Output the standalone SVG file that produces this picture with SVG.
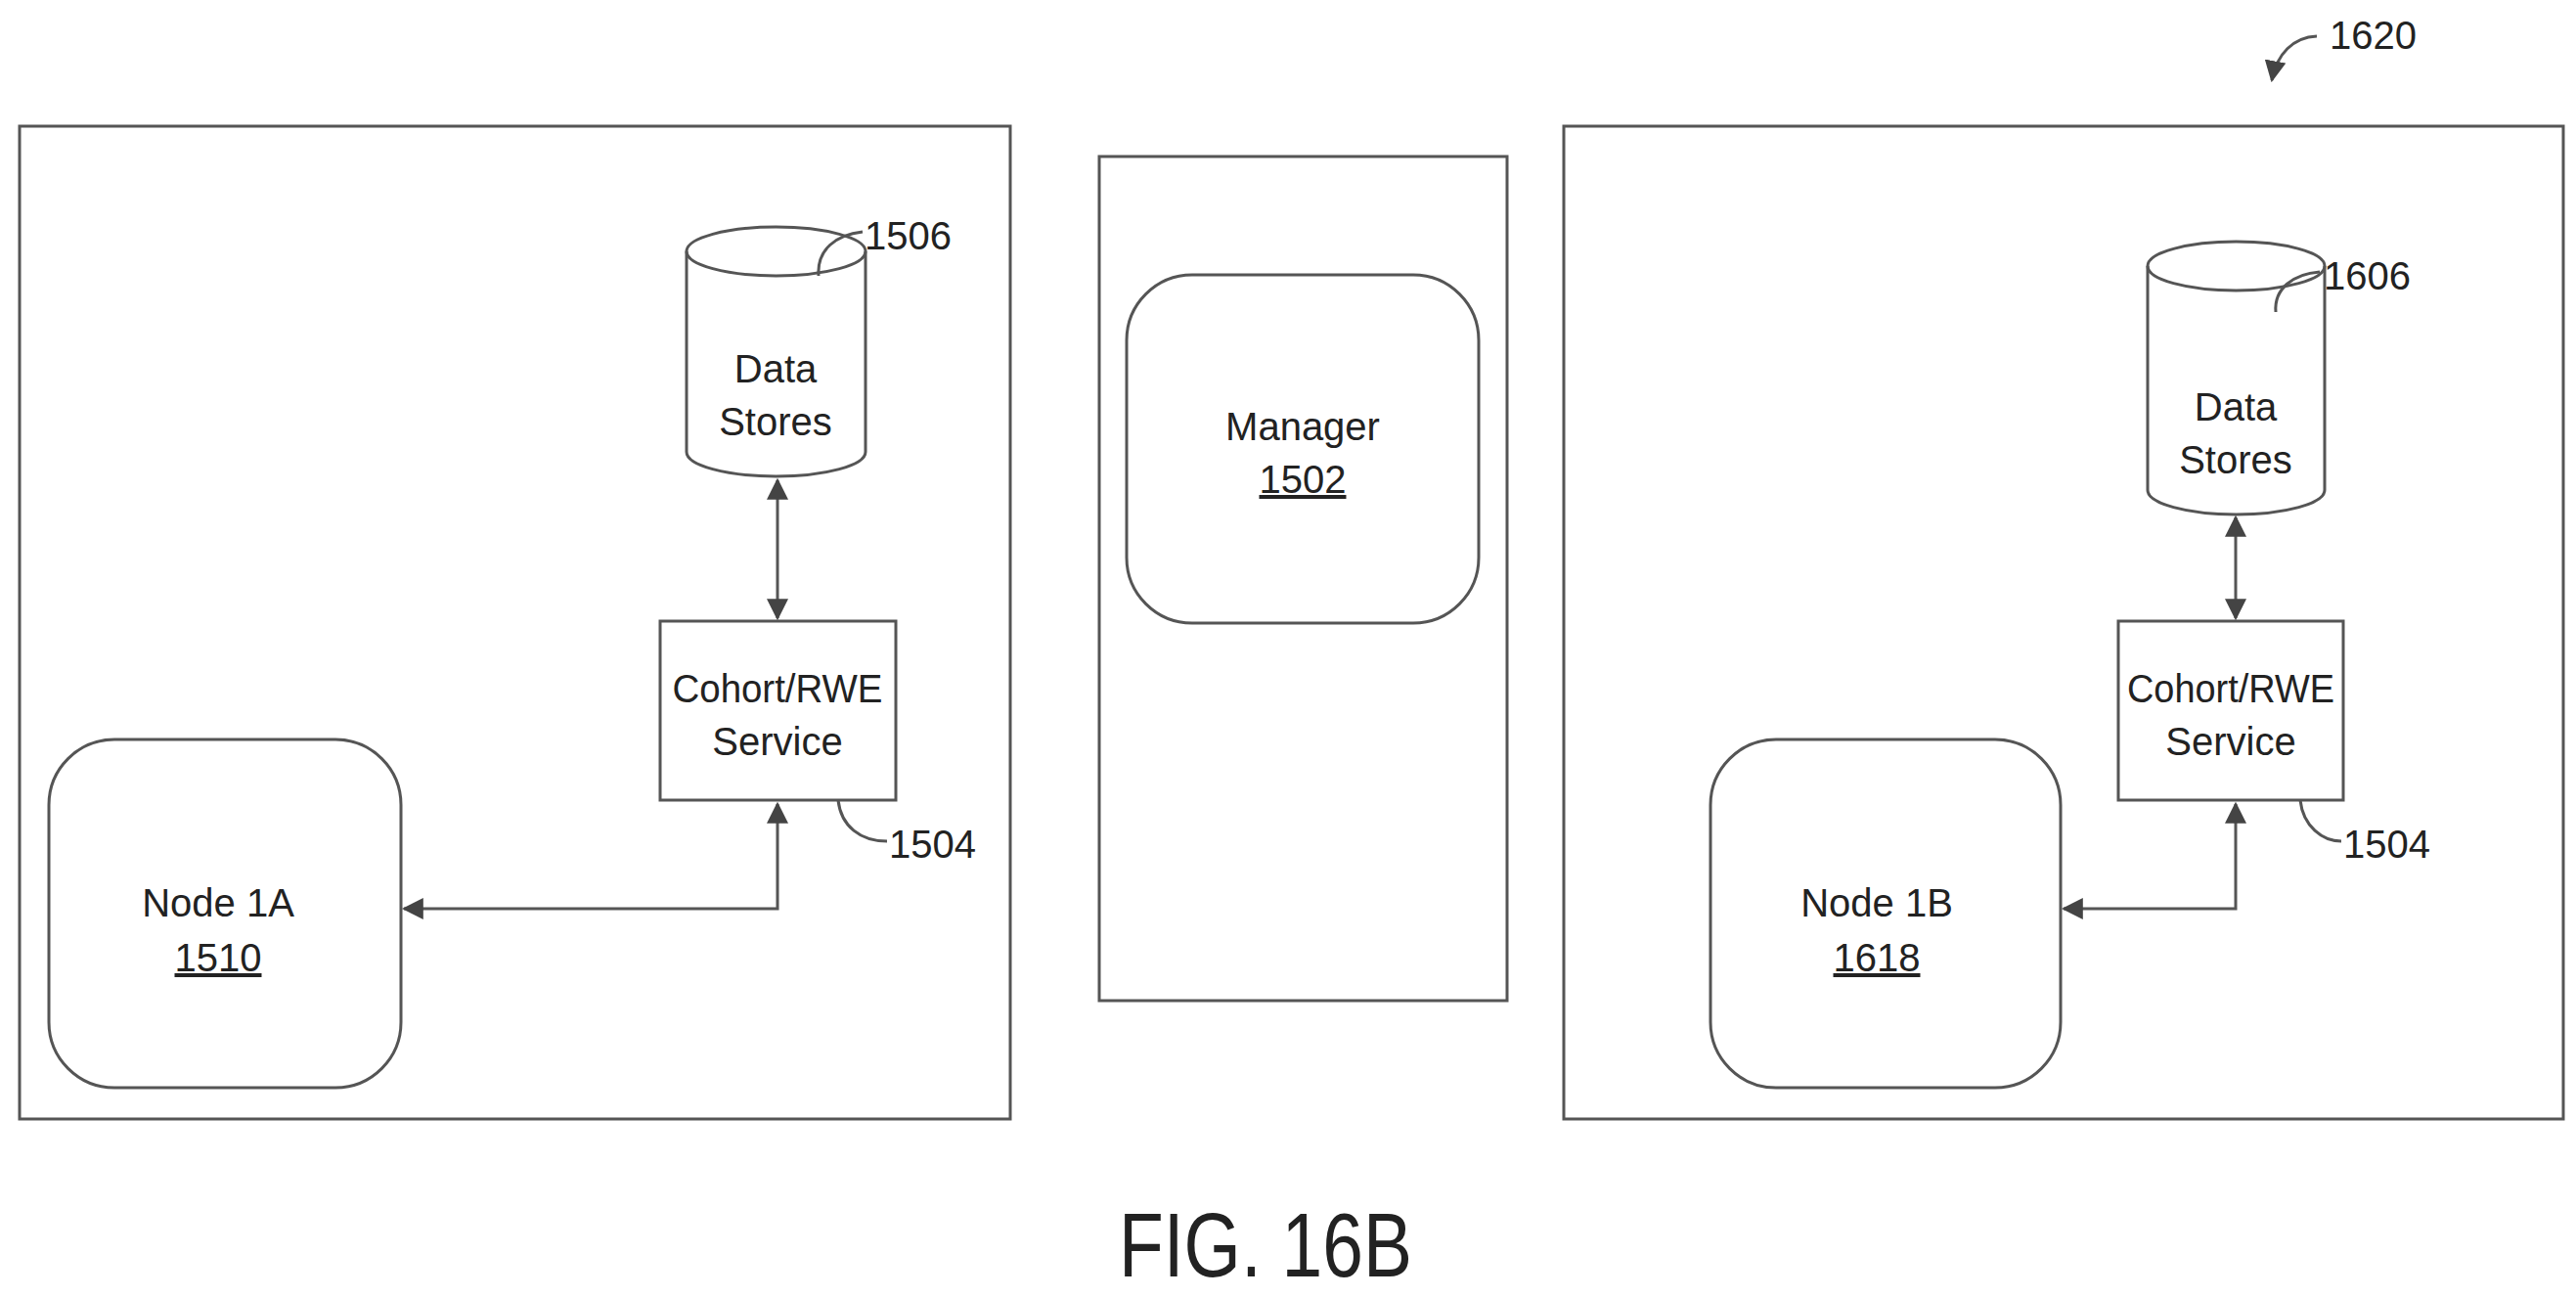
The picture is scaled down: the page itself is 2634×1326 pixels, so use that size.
<svg xmlns="http://www.w3.org/2000/svg" width="2634" height="1326" viewBox="0 0 2634 1326">
<style>
.b{fill:#fff;stroke:#555;stroke-width:3}
.l{fill:none;stroke:#555;stroke-width:3}
text{font-family:"Liberation Sans Narrow","Liberation Sans",sans-serif;font-size:40px;fill:#222;text-anchor:middle}
.r{text-anchor:start}
</style>
<defs>
<marker id="m" viewBox="0 0 10 10" refX="9" refY="5" markerWidth="22" markerHeight="22" orient="auto-start-reverse" markerUnits="userSpaceOnUse"><path d="M0,0L10,5L0,10z" fill="#444"/></marker>
</defs>
<rect width="2634" height="1326" fill="#fff"/>
<g id="left-box"><rect class="b" x="20" y="129" width="1013" height="1015"/></g>
<g id="manager-box"><rect class="b" x="1124" y="160" width="417" height="863"/>
<rect class="b" x="1152" y="281" width="360" height="356" rx="67"/>
<text x="1332" y="450">Manager</text><text x="1332" y="504" text-decoration="underline">1502</text></g>
<g id="right-box"><rect class="b" x="1599" y="129" width="1022" height="1015"/></g>
<g id="ds1"><path class="b" d="M702,257 A91.5,25 0 0 1 885,257 V462 A91.5,25 0 0 1 702,462 Z"/><path class="l" d="M702,257 A91.5,25 0 0 0 885,257"/>
<text x="793" y="391">Data</text><text x="793" y="445">Stores</text></g>
<g id="ds2"><path class="b" d="M2196,272 A90.5,25 0 0 1 2377,272 V501 A90.5,25 0 0 1 2196,501 Z"/><path class="l" d="M2196,272 A90.5,25 0 0 0 2377,272"/>
<text x="2286" y="430">Data</text><text x="2286" y="484">Stores</text></g>
<g id="svc1"><rect class="b" x="675" y="635" width="241" height="183"/><text x="795" y="718" textLength="215" lengthAdjust="spacingAndGlyphs">Cohort/RWE</text><text x="795" y="772">Service</text></g>
<g id="svc2"><rect class="b" x="2166" y="635" width="230" height="183"/><text x="2281" y="718" textLength="212" lengthAdjust="spacingAndGlyphs">Cohort/RWE</text><text x="2281" y="772">Service</text></g>
<g id="node1a"><rect class="b" x="50" y="756" width="360" height="356" rx="67"/><text x="223" y="937">Node 1A</text><text x="223" y="993" text-decoration="underline">1510</text></g>
<g id="node1b"><rect class="b" x="1749" y="756" width="358" height="356" rx="67"/><text x="1919" y="937">Node 1B</text><text x="1919" y="993" text-decoration="underline">1618</text></g>
<g id="connectors">
<path class="l" d="M795,491V632" marker-start="url(#m)" marker-end="url(#m)"/>
<path class="l" d="M795,822V929H413" marker-start="url(#m)" marker-end="url(#m)"/>
<path class="l" d="M2286,529V632" marker-start="url(#m)" marker-end="url(#m)"/>
<path class="l" d="M2286,822V929H2110" marker-start="url(#m)" marker-end="url(#m)"/>
<path class="l" d="M837,282C835,255 855,240 882,237"/>
<path class="l" d="M2327,319C2325,295 2345,280 2372,278"/>
<path class="l" d="M857,818C860,845 880,860 907,860"/>
<path class="l" d="M2352,818C2355,845 2375,860 2394,860"/>
<path class="l" d="M2369,37C2345,38 2328,55 2323,82" marker-end="url(#m)"/>
</g>
<text class="r" x="884" y="255">1506</text>
<text class="r" x="2376" y="296">1606</text>
<text class="r" x="909" y="877">1504</text>
<text class="r" x="2396" y="877">1504</text>
<text class="r" x="2382" y="50">1620</text>
<text x="1294" y="1305" style="font-size:92px" textLength="300" lengthAdjust="spacingAndGlyphs">FIG. 16B</text>
</svg>
